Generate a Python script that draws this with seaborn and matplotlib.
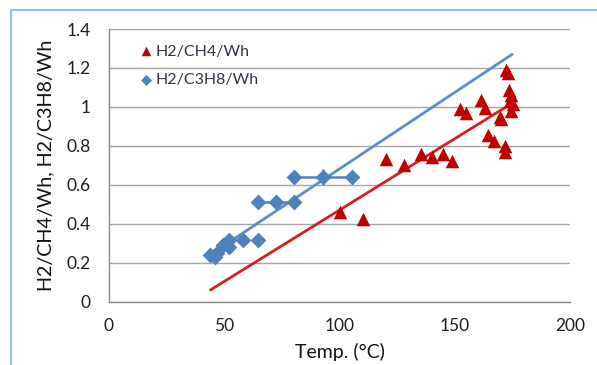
import numpy as np
import pandas as pd
import matplotlib
matplotlib.use("Agg")
import matplotlib.pyplot as plt
import seaborn as sns

# ---- data ----
ch4_temp = [100.2, 110.4, 120.3, 127.8, 135.2, 140.2, 145.1, 149.0, 152.2, 155.0,
            161.3, 163.0, 164.6, 167.1, 169.9, 169.5, 172.0, 172.0, 172.4, 173.0,
            173.6, 174.0, 174.6, 175.4, 174.2]
ch4_val = [0.461, 0.427, 0.734, 0.700, 0.760, 0.743, 0.760, 0.720, 0.990, 0.968,
           1.033, 0.995, 0.854, 0.825, 0.939, 0.950, 0.800, 0.768, 1.187, 1.173,
           1.088, 1.030, 0.980, 1.015, 1.060]

c3h8_temp = [44.0, 46.0, 47.0, 49.3, 52.2, 52.2, 58.3, 64.5, 64.5, 72.4, 80.3, 80.3, 93.0, 105.5]
c3h8_val = [0.239, 0.230, 0.250, 0.290, 0.316, 0.280, 0.316, 0.316, 0.512, 0.512, 0.512,
            0.640, 0.640, 0.640]

# error bars on the C3H8 series
err_temp = [72.4, 92.9]
err_val = [0.512, 0.640]
err_xerr = [8.0, 12.6]
err_yerr = [0.0, 0.04]

# trendline x-range (Excel forecast extents)
ch4_fit_range = [44.0, 173.2]
c3h8_fit_range = [44.0, 174.9]

x_ticks = [0, 50, 100, 150, 200]
y_ticks = [0, 0.2, 0.4, 0.6, 0.8, 1.0, 1.2, 1.4]
y_ticklabels = ["0", "0.2", "0.4", "0.6", "0.8", "1", "1.2", "1.4"]

RED = "#C00000"
RED_LINE = "#D42020"
BLUE = "#4F81BD"
BLUE_LINE = "#5B8FCB"

sns.set_theme(style="white")
plt.rcParams["font.family"] = ["Lato", "DejaVu Sans"]

W, H = 597, 365
fig = plt.figure(figsize=(W / 100, H / 100), dpi=100)
ax = fig.add_axes([109 / W, 1 - 301.7 / H, 461 / W, 272.7 / H])

# figure border (light blue, left and top visible)
fig.patches.append(matplotlib.patches.Rectangle((11 / W, -0.2), 1.5, 1.2 - 9.5 / H,
                                                transform=fig.transFigure, fill=False,
                                                edgecolor="#9DBEE6", linewidth=1.6, zorder=0))

for y in y_ticks:
    ax.axhline(y, color="#A6A6A6", linewidth=1.0, zorder=0)

df_ch4 = pd.DataFrame({"t": ch4_temp, "v": ch4_val})
df_c3 = pd.DataFrame({"t": c3h8_temp, "v": c3h8_val})

# trendlines (least squares, as in the spreadsheet)
for df, rng, col in [(df_ch4, ch4_fit_range, RED_LINE), (df_c3, c3h8_fit_range, BLUE_LINE)]:
    k, b = np.polyfit(df["t"], df["v"], 1)
    xs = np.array(rng)
    sns.lineplot(x=xs, y=k * xs + b, ax=ax, color=col, linewidth=2.0, zorder=2)

ax.errorbar(err_temp, err_val, xerr=err_xerr, yerr=err_yerr, fmt="none",
            ecolor=BLUE, elinewidth=1.8, capsize=0, zorder=3)

sns.scatterplot(data=df_ch4, x="t", y="v", ax=ax, marker="^", s=95, color=RED,
                edgecolor=RED, linewidth=0, label="H2/CH4/Wh", zorder=4)
sns.scatterplot(data=df_c3, x="t", y="v", ax=ax, marker="D", s=65, color=BLUE,
                edgecolor=BLUE, linewidth=0, label="H2/C3H8/Wh", zorder=4)

ax.set_xlim(0, 200)
ax.set_ylim(0, 1.4)
ax.set_xticks(x_ticks)
ax.set_yticks(y_ticks)
ax.set_yticklabels(y_ticklabels)
ax.tick_params(axis="both", labelsize=12.5, labelcolor="#1E1E1E", color="#888888",
               length=5, width=1.0, direction="out")
ax.tick_params(axis="y", pad=8)
ax.tick_params(axis="x", pad=6.5)
for s in ["top", "right"]:
    ax.spines[s].set_visible(False)
for s in ["left", "bottom"]:
    ax.spines[s].set_color("#888888")
    ax.spines[s].set_linewidth(1.0)

ax.set_xlabel("Temp. (°C)", fontsize=14, color="#111111", va="center", ha="center")
ax.xaxis.set_label_coords(0.5, ((1 - 351.7 / H) - (1 - 301.7 / H)) / (272.7 / H))
ax.set_ylabel("H2/CH4/Wh, H2/C3H8/Wh", fontsize=14.2, color="#111111", va="center", ha="center")
ax.yaxis.set_label_coords((45.5 - 109) / 461, 0.5)

leg = ax.legend(loc="upper left", bbox_to_anchor=((138.5 - 109) / 461, (301.7 - 44.5) / 272.7),
                frameon=False, fontsize=11.5, labelspacing=0.9, handletextpad=0.15,
                markerscale=0.7, handlelength=0.9, borderpad=0, borderaxespad=0)
for t in leg.get_texts():
    t.set_color("#333344")

fig.savefig("out.png", dpi=100)
